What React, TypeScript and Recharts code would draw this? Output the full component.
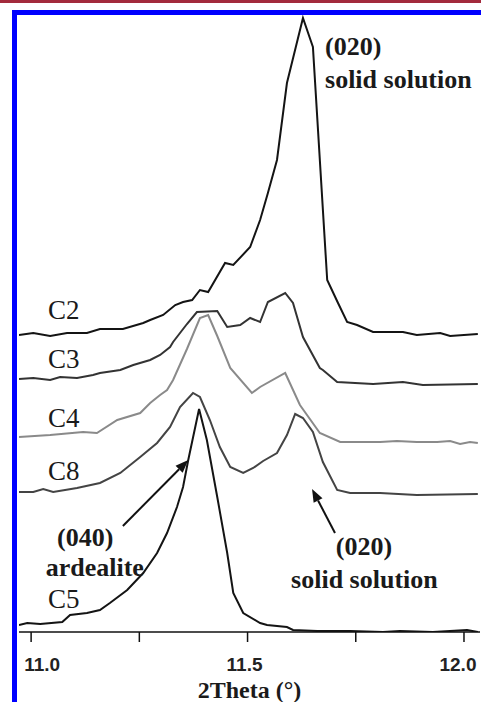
import { LineChart, Line, XAxis, YAxis, ReferenceDot, ReferenceLine, Label } from "recharts";

// 2Theta (deg) and relative intensity
const c2Theta = [10.972, 11.005, 11.044, 11.083, 11.129, 11.159, 11.212, 11.259, 11.275, 11.305, 11.333, 11.351, 11.372, 11.39, 11.409, 11.448, 11.467, 11.506, 11.529, 11.547, 11.568, 11.591, 11.628, 11.651, 11.684, 11.709, 11.73, 11.753, 11.79, 11.859, 11.891, 11.945, 11.968, 12.032];
const c2Counts = [297, 299, 296, 299, 299, 303, 303, 309, 312, 317, 327, 330, 332, 342, 340, 369, 367, 385, 412, 439, 472, 549, 614, 585, 352, 329, 310, 307, 300, 300, 297, 299, 296, 298];

const c3Theta = [10.972, 11.005, 11.044, 11.067, 11.106, 11.143, 11.159, 11.206, 11.236, 11.275, 11.298, 11.321, 11.328, 11.36, 11.383, 11.43, 11.453, 11.483, 11.506, 11.529, 11.547, 11.587, 11.605, 11.628, 11.667, 11.674, 11.707, 11.79, 11.859, 11.905, 12.032];
const c3Counts = [253, 254, 252, 255, 254, 257, 259, 262, 267, 272, 277, 285, 290, 308, 320, 321, 305, 307, 314, 310, 330, 339, 329, 295, 264, 262, 250, 248, 250, 247, 248];

const c4Theta = [10.972, 11.044, 11.12, 11.152, 11.199, 11.252, 11.275, 11.298, 11.314, 11.328, 11.36, 11.39, 11.409, 11.43, 11.46, 11.51, 11.529, 11.587, 11.621, 11.667, 11.714, 11.806, 11.845, 11.891, 11.938, 11.968, 11.991, 12.014, 12.032];
const c4Counts = [195, 197, 200, 199, 212, 219, 229, 237, 242, 252, 283, 314, 317, 296, 264, 239, 245, 259, 227, 199, 190, 190, 191, 190, 190, 191, 188, 190, 189];

const c8Theta = [10.972, 11.005, 11.028, 11.051, 11.106, 11.159, 11.206, 11.252, 11.291, 11.321, 11.344, 11.374, 11.39, 11.413, 11.436, 11.46, 11.49, 11.513, 11.536, 11.568, 11.591, 11.61, 11.628, 11.651, 11.674, 11.707, 11.737, 11.806, 11.891, 12.032];
const c8Counts = [140, 140, 143, 140, 144, 149, 159, 175, 189, 205, 225, 239, 235, 212, 185, 165, 159, 164, 171, 179, 197, 218, 214, 200, 170, 142, 139, 139, 137, 138];

const c5Theta = [10.972, 10.991, 11.021, 11.072, 11.09, 11.129, 11.159, 11.182, 11.222, 11.259, 11.291, 11.314, 11.337, 11.351, 11.363, 11.388, 11.406, 11.43, 11.453, 11.467, 11.49, 11.529, 11.545, 11.591, 11.605, 11.661, 11.737, 11.813, 11.852, 11.928, 12.007, 12.032];
const c5Counts = [7, 9, 8, 10, 17, 19, 22, 29, 42, 59, 79, 99, 125, 145, 172, 223, 192, 135, 79, 39, 19, 9, 7, 5, 2, 1, 1, 0, 1, 0, 2, 0];

const xTicks = [11.0, 11.25, 11.5, 11.75, 12.0];
const labeledTicks = [11.0, 11.5, 12.0];

// sample labels sitting left of each trace
const sampleNames = ["C2", "C3", "C4", "C8", "C5"];
const sampleLabelTheta = [11.039, 11.039, 11.039, 11.039, 11.039];
const sampleLabelCounts = [313, 264, 205, 152, 24];

const zip = (xs: number[], ys: number[]) => xs.map((x, i) => ({ x, y: ys[i] }));

const serif = "'Liberation Serif', 'Times New Roman', serif";

// the printed tick numbers are nudged a little off their marks
const tickNudge: Record<string, number> = { "11.0": 11, "11.5": -3, "12.0": -6 };

const AxisTick = (p: any) => {
    const v: number = p.payload.value;
    if (!labeledTicks.includes(v)) return null;
    const txt = v.toFixed(1);
    return (
        <text
            x={p.x + (tickNudge[txt] || 0)}
            y={p.y}
            dy="0.71em"
            textAnchor="middle"
            fontSize={19}
            fontWeight="bold"
            fill="#222"
            fontFamily="'Liberation Sans', Arial, sans-serif"
        >
            {txt}
        </text>
    );
};

const textAt = (txt: string, opts: { anchor?: string; size?: number; bold?: boolean }) => (p: any) => (
    <text
        x={p.cx}
        y={p.cy}
        textAnchor={opts.anchor || "start"}
        fontFamily={serif}
        fontSize={opts.size || 26}
        fontWeight={opts.bold ? "bold" : "normal"}
        fill="#1a1a1a"
    >
        {txt}
    </text>
);

const arrowShape = (p: any) => {
    const { x1, y1, x2, y2 } = p;
    const ang = Math.atan2(y2 - y1, x2 - x1);
    const len = 13;
    const w = 5;
    const bx = x2 - len * Math.cos(ang);
    const by = y2 - len * Math.sin(ang);
    const nx = -Math.sin(ang) * w;
    const ny = Math.cos(ang) * w;
    return (
        <g>
            <line x1={x1} y1={y1} x2={bx} y2={by} stroke="#111" strokeWidth={2} />
            <polygon points={`${x2},${y2} ${bx + nx},${by + ny} ${bx - nx},${by - ny}`} fill="#111" />
        </g>
    );
};

export default function App() {
    const series = [
        { data: zip(c2Theta, c2Counts), color: "#141414" },
        { data: zip(c3Theta, c3Counts), color: "#333333" },
        { data: zip(c4Theta, c4Counts), color: "#8a8a8a" },
        { data: zip(c8Theta, c8Counts), color: "#444444" },
        { data: zip(c5Theta, c5Counts), color: "#141414" },
    ];

    return (
        <div style={{ position: "absolute", left: 0, top: 0, width: 481, height: 702, background: "#fff", overflow: "hidden" }}>
            <div style={{ position: "absolute", left: 0, top: 0, width: 481, height: 3, background: "#a32a3c" }} />
            <div
                style={{
                    position: "absolute",
                    left: 12,
                    top: 10,
                    width: 500,
                    height: 720,
                    borderTop: "5px solid #0000ff",
                    borderLeft: "5px solid #0000ff",
                }}
            />
            <div style={{ position: "absolute", left: 0, top: 0 }}>
                <LineChart width={481} height={702} margin={{ top: 15, right: 1, bottom: 20, left: 19 }}>
                    <XAxis
                        type="number"
                        dataKey="x"
                        domain={[10.972, 12.037]}
                        ticks={xTicks}
                        allowDataOverflow
                        height={50}
                        tickSize={10}
                        tickMargin={16}
                        axisLine={{ stroke: "#111", strokeWidth: 1.5 }}
                        tickLine={{ stroke: "#111", strokeWidth: 1.5 }}
                        tick={<AxisTick />}
                    >
                        <Label
                            value="2Theta (°)"
                            position="bottom"
                            offset={-1}
                            style={{ fontSize: 24, fontWeight: "bold", fill: "#1a1a1a", fontFamily: serif }}
                        />
                    </XAxis>
                    <YAxis hide type="number" domain={[0, 617]} allowDataOverflow />
                    {series.map((s, i) => (
                        <Line
                            key={i}
                            data={s.data}
                            dataKey="y"
                            type="linear"
                            stroke={s.color}
                            strokeWidth={2}
                            dot={false}
                            activeDot={false}
                            isAnimationActive={false}
                        />
                    ))}
                    {sampleNames.map((n, i) => (
                        <ReferenceDot
                            key={n}
                            x={sampleLabelTheta[i]}
                            y={sampleLabelCounts[i]}
                            r={0}
                            shape={textAt(n, { size: 27 })}
                        />
                    ))}
                    <ReferenceDot x={11.679} y={577} r={0} shape={textAt("(020)", { bold: true })} />
                    <ReferenceDot x={11.679} y={544} r={0} shape={textAt("solid solution", { bold: true })} />
                    <ReferenceDot x={11.125} y={86} r={0} shape={textAt("(040)", { bold: true, anchor: "middle" })} />
                    <ReferenceDot x={11.147} y={56} r={0} shape={textAt("ardealite", { bold: true, anchor: "middle" })} />
                    <ReferenceDot x={11.769} y={77} r={0} shape={textAt("(020)", { bold: true, anchor: "middle" })} />
                    <ReferenceDot x={11.77} y={44} r={0} shape={textAt("solid solution", { bold: true, anchor: "middle" })} />
                    <ReferenceLine
                        segment={[{ x: 11.212, y: 106 }, { x: 11.363, y: 172 }]}
                        shape={arrowShape}
                    />
                    <ReferenceLine
                        segment={[{ x: 11.702, y: 99 }, { x: 11.649, y: 143 }]}
                        shape={arrowShape}
                    />
                </LineChart>
            </div>
        </div>
    );
}
